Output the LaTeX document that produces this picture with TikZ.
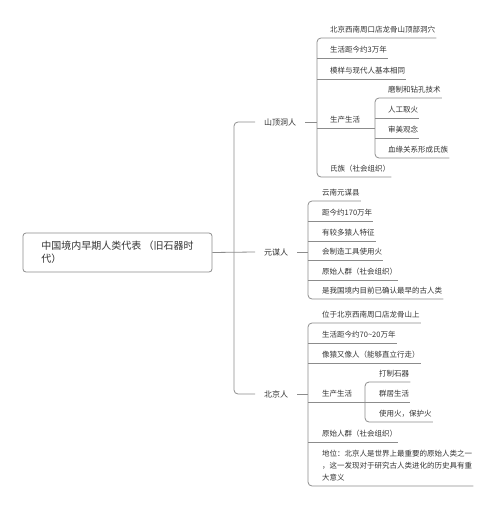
\documentclass[tikz,border=0pt]{standalone}
\usepackage{fontspec}
\setmainfont{Noto Sans CJK SC}
\usetikzlibrary{positioning,calc}

\definecolor{ink}{HTML}{333333}
\definecolor{wire}{HTML}{8C8C8C}

\begin{document}
\begin{tikzpicture}[
    x=1pt, y=-1pt,
    rootbox/.style={draw=wire, fill=white, rounded corners=3pt, line width=0.8pt, minimum width=189pt, minimum height=39pt, align=left, text=ink, font=\fontsize{10}{13}\selectfont},
    branch/.style={anchor=west, inner xsep=9pt, text=ink, font=\fontsize{8}{10}\selectfont},
    leaf/.style={anchor=south west, inner xsep=1pt, inner ysep=5pt, text depth=0pt, align=left, text=ink, font=\fontsize{7.5}{12}\selectfont},
    link/.style={draw=wire, line width=0.8pt, rounded corners=4pt}
]
    \useasboundingbox (0,0) rectangle (500,511);

    % Racine
    \node[rootbox] (root) at (117.5,252.5) {中国境内早期人类代表 （旧石器时\\代）};

    % Branches
    \node[branch] (shanding) at (255,122) {山顶洞人};
    \node[branch] (yuanmou) at (255,252) {元谋人};
    \node[branch] (beijing) at (255,394) {北京人};

    \coordinate (trunk) at (234,252);
    \coordinate (sd_x) at (317,122);
    \coordinate (ym_x) at (308,252);
    \coordinate (bj_x) at (308,394);

    % 山顶洞人
    \node[leaf] (sd_loc) at (329,38) {北京西南周口店龙骨山顶部洞穴};
    \node[leaf] (sd_age) at (329,58) {生活距今约3万年};
    \node[leaf] (sd_look) at (329,79) {模样与现代人基本相同};
    \node[leaf] (sd_life) at (329,128) {生产生活};
    \node[leaf] (sd_clan) at (329,177) {氏族（社会组织）};
    \coordinate (sd_life_x) at (375,128);

    \node[leaf] (sd_tool) at (387,98) {磨制和钻孔技术};
    \node[leaf] (sd_fire) at (387,118) {人工取火};
    \node[leaf] (sd_art) at (387,138) {审美观念};
    \node[leaf] (sd_kin) at (387,158) {血缘关系形成氏族};

    % 元谋人
    \node[leaf] (ym_loc) at (321,201) {云南元谋县};
    \node[leaf] (ym_age) at (321,221) {距今约170万年};
    \node[leaf] (ym_ape) at (321,241) {有较多猿人特征};
    \node[leaf] (ym_tool) at (321,260) {会制造工具使用火};
    \node[leaf] (ym_group) at (321,280) {原始人群（社会组织）};
    \node[leaf] (ym_old) at (321,299) {是我国境内目前已确认最早的古人类};

    % 北京人
    \node[leaf] (bj_loc) at (321,323) {位于北京西南周口店龙骨山上};
    \node[leaf] (bj_age) at (321,343) {生活距今约70\textasciitilde 20万年};
    \node[leaf] (bj_walk) at (321,363) {像猿又像人（能够直立行走）};
    \node[leaf] (bj_life) at (321,402) {生产生活};
    \node[leaf] (bj_group) at (321,442) {原始人群（社会组织）};
    \node[leaf] (bj_rank) at (321,486) {地位：北京人是世界上最重要的原始人类之一\\，这一发现对于研究古人类进化的历史具有重\\大意义};
    \coordinate (bj_life_x) at (365,402);

    \node[leaf] (bj_stone) at (378,382) {打制石器};
    \node[leaf] (bj_live) at (378,402) {群居生活};
    \node[leaf] (bj_fire) at (378,422) {使用火，保护火};

    % Liens principaux
    \draw[link] (root.east) -- (yuanmou.west);
    \draw[link] (shanding.west) -| (trunk) |- (beijing.west);
    \draw[link] (shanding.east) -- (sd_x);
    \draw[link] (yuanmou.east) -- (ym_x);
    \draw[link] (beijing.east) -- (bj_x);

    % Liens 山顶洞人
    \draw[link] (sd_loc.south east) -| (sd_x) |- (sd_clan.south east);
    \draw[link] (sd_x |- sd_age.south) -- (sd_age.south east);
    \draw[link] (sd_x |- sd_look.south) -- (sd_look.south east);
    \draw[link] (sd_x |- sd_life.south) -- (sd_life_x);
    \draw[link] (sd_tool.south east) -| (sd_life_x) |- (sd_kin.south east);
    \draw[link] (sd_life_x |- sd_fire.south) -- (sd_fire.south east);
    \draw[link] (sd_life_x |- sd_art.south) -- (sd_art.south east);

    % Liens 元谋人
    \draw[link] (ym_loc.south east) -| (ym_x) |- (ym_old.south east);
    \draw[link] (ym_x |- ym_age.south) -- (ym_age.south east);
    \draw[link] (ym_x |- ym_ape.south) -- (ym_ape.south east);
    \draw[link] (ym_x |- ym_tool.south) -- (ym_tool.south east);
    \draw[link] (ym_x |- ym_group.south) -- (ym_group.south east);

    % Liens 北京人
    \draw[link] (bj_loc.south east) -| (bj_x) |- (bj_rank.south east);
    \draw[link] (bj_x |- bj_age.south) -- (bj_age.south east);
    \draw[link] (bj_x |- bj_walk.south) -- (bj_walk.south east);
    \draw[link] (bj_x |- bj_life.south) -- (bj_life_x);
    \draw[link] (bj_x |- bj_group.south) -- (bj_group.south east);
    \draw[link] (bj_stone.south east) -| (bj_life_x) |- (bj_fire.south east);
    \draw[link] (bj_life_x |- bj_live.south) -- (bj_live.south east);

\end{tikzpicture}
\end{document}
